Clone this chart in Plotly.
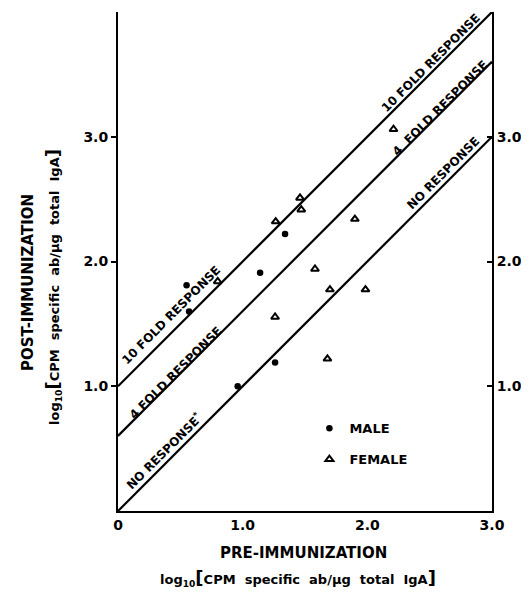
import math
import plotly.graph_objects as go

# ---- data (log10 CPM specific ab / ug total IgA) ----
male_pre = [0.55, 0.57, 0.96, 1.14, 1.34, 1.26]
male_post = [1.81, 1.60, 1.00, 1.91, 2.22, 1.19]

female_pre = [0.80, 1.265, 1.46, 1.47, 1.26, 1.58, 1.70, 1.985, 1.68, 1.90, 2.21]
female_post = [1.84, 2.32, 2.51, 2.415, 1.555, 1.94, 1.775, 1.775, 1.22, 2.34, 3.06]

# reference response lines: post = pre + log10(fold)
fold_values = [1, 4, 10]
line_x = [0, 3]

x_ticks = [0, 1, 2, 3]
x_ticktext = ["0", "1.0", "2.0", "3.0"]
y_ticks = [1, 2, 3]
y_ticktext = ["1.0", "2.0", "3.0"]

FONT = "DejaVu Sans"
BLACK = "black"

fig = go.Figure()

for f in fold_values:
    off = math.log10(f)
    fig.add_trace(go.Scatter(
        x=line_x, y=[v + off for v in line_x], mode="lines",
        line=dict(color=BLACK, width=2.2), showlegend=False, hoverinfo="skip"))

fig.add_trace(go.Scatter(
    x=male_pre, y=male_post, mode="markers", name="MALE", legendgroup="m",
    marker=dict(symbol="circle", size=6.5, color=BLACK)))
fig.add_trace(go.Scatter(
    x=female_pre, y=female_post, mode="markers", name="FEMALE", legendgroup="f",
    marker=dict(symbol="triangle-up-open", size=7, color=BLACK,
                line=dict(width=2, color=BLACK))))
# dummy trace to activate right axis
fig.add_trace(go.Scatter(x=[], y=[], yaxis="y2", showlegend=False, hoverinfo="skip"))

# page is offset by the 8px body margin
O = 8
W, H = 529 - 2 * O, 599 - 2 * O
# plot area in page pixels
L, R, T, B = 117.5, 491.7, 11.5, 510.7
def px(xp, yp):
    return (xp - L) / (R - L), (B - yp) / (B - T)

ann = []
line_labels = [
    ("10 FOLD RESPONSE", 2.506, 3.595),
    ("4  FOLD RESPONSE", 2.586, 3.227),
    ("NO RESPONSE", 2.61, 2.71),
    ("10 FOLD RESPONSE", 0.429, 1.569),
    ("4 FOLD RESPONSE", 0.46, 1.11),
    ("NO RESPONSE<sup>*</sup>", 0.365, 0.485),
]
for t, xx, yy in line_labels:
    ann.append(dict(text=t, x=xx, y=yy, xref="x", yref="y", showarrow=False,
                    textangle=-45, xanchor="center", yanchor="middle",
                    font=dict(family=FONT, size=12, color=BLACK, weight="bold")))

big = "<span style='font-size:18px'>%s</span>"
logtext = ("log<sub>10</sub>" + big % "[" + "CPM  specific  ab/μg  total  IgA" + big % "]")

for t, (xp, yp), ang, sz in [
    ("POST-IMMUNIZATION", (28, 282), -90, 15),
    (logtext, (53, 287), -90, 13),
    ("PRE-IMMUNIZATION", (303, 553), 0, 15),
    (logtext, (298, 578), 0, 13),
]:
    xx, yy = px(xp, yp)
    ann.append(dict(text=t, x=xx, y=yy, xref="paper", yref="paper", showarrow=False,
                    textangle=ang, xanchor="center", yanchor="middle",
                    font=dict(family=FONT, size=sz, color=BLACK, weight="bold")))

lx, ly = px(309, 413)

tickfont = dict(family=FONT, size=14, color=BLACK, weight="bold")
fig.update_layout(
    width=W, height=H,
    margin=dict(l=L - O, r=W - (R - O), t=T - O, b=H - (B - O), autoexpand=False),
    paper_bgcolor="white", plot_bgcolor="white",
    showlegend=True,
    legend=dict(x=lx, y=ly, xanchor="left", yanchor="top", bgcolor="rgba(0,0,0,0)",
                font=dict(family=FONT, size=13, color=BLACK, weight="bold"),
                itemwidth=30, tracegroupgap=11),
    xaxis=dict(range=[0, 3], tickvals=x_ticks, ticktext=x_ticktext, ticks="",
               showline=True, linewidth=2, linecolor=BLACK, showgrid=False, zeroline=False,
               tickfont=tickfont),
    yaxis=dict(range=[0, 4], tickvals=y_ticks, ticktext=y_ticktext, ticks="outside",
               ticklen=5, tickwidth=2, tickcolor=BLACK,
               showline=True, linewidth=2, linecolor=BLACK, showgrid=False, zeroline=False,
               tickfont=tickfont),
    yaxis2=dict(range=[0, 4], overlaying="y", side="right", tickvals=y_ticks,
                ticktext=y_ticktext, ticks="inside", ticklen=5, tickwidth=2, tickcolor=BLACK,
                showline=True, linewidth=2, linecolor=BLACK, showgrid=False, zeroline=False,
                tickfont=tickfont),
    annotations=ann,
)

fig.write_html("out.html")
